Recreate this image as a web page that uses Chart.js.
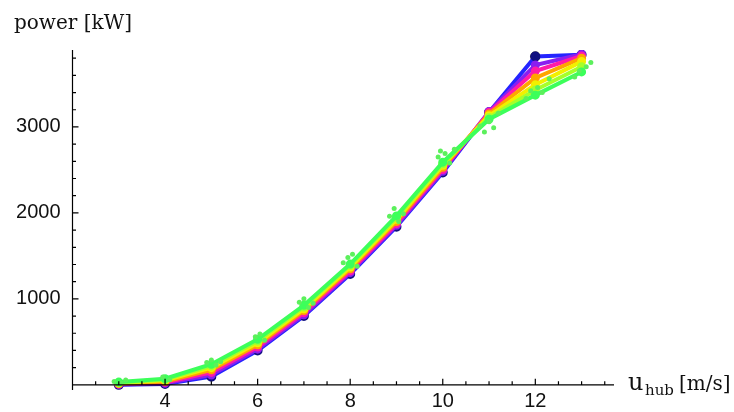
<!DOCTYPE html>
<html>
<head>
<meta charset="utf-8">
<script src="https://cdn.jsdelivr.net/npm/chart.js@4.4.1/dist/chart.umd.min.js"></script>
<style>
  html, body { margin: 0; padding: 0; background: #fff; }
  #wrap { width: 734px; height: 412px; }
</style>
</head>
<body>
<div id="wrap"><canvas id="myChart"></canvas></div>
<script>
// wind speeds (m/s) and power (kW) for each curve
const speeds = [3, 4, 5, 6, 7, 8, 9, 10, 11, 12, 13];
const powerNavy    = [0, 10, 95, 400, 800, 1290, 1840, 2470, 3170, 3820, 3840];
const powerBlue    = [5, 18, 115, 415, 815, 1305, 1855, 2485, 3180, 3720, 3845];
const powerMagenta = [10, 28, 145, 440, 840, 1325, 1875, 2505, 3170, 3650, 3825];
const powerOrange  = [15, 40, 175, 465, 865, 1350, 1900, 2530, 3150, 3570, 3800];
const powerYellow  = [20, 52, 200, 490, 885, 1370, 1925, 2555, 3130, 3490, 3760];
const powerLime    = [25, 62, 220, 510, 905, 1390, 1945, 2570, 3110, 3430, 3700];
const powerGreen   = [32, 72, 240, 530, 925, 1405, 1965, 2590, 3090, 3370, 3640];

// scattered single measurements
const dotsX = [2.9, 3.05, 3.15, 3.95, 4.1, 4.9, 5.0, 5.1, 5.2, 5.95, 6.05, 6.15, 6.9, 7.0, 7.1, 7.2,
               7.85, 7.95, 8.05, 8.15, 8.85, 8.95, 9.05, 9.15, 9.9, 9.95, 10.05, 10.15, 10.25,
               10.8, 10.9, 11.0, 11.1, 11.2, 11.8, 11.9, 12.05, 12.15, 12.3, 12.85, 12.95, 13.1, 13.2];
const dotsY = [40, 20, 55, 90, 60, 260, 290, 230, 270, 560, 590, 520, 960, 1000, 900, 950,
               1420, 1480, 1520, 1380, 1960, 2050, 1900, 1990, 2650, 2720, 2690, 2580, 2740,
               3010, 2940, 3060, 2990, 3160, 3330, 3420, 3460, 3400, 3560, 3580, 3650, 3700, 3750];

const ticksX = [4, 6, 8, 10, 12];
const ticksY = [1000, 2000, 3000];

function pts(ys) {
  return speeds.map((s, i) => ({ x: s, y: ys[i] }));
}

// axes drawn Mathematica style: crossing lines with inward ticks
const axesPlugin = {
  id: 'axes',
  afterDatasetsDraw(chart) {
    const c = chart.ctx;
    const xs = chart.scales.x, ys = chart.scales.y;
    const x0 = xs.getPixelForValue(2), y0 = ys.getPixelForValue(0);
    c.save();
    c.strokeStyle = '#000';
    c.lineWidth = 1.2;
    c.beginPath();
    c.moveTo(xs.left, y0); c.lineTo(xs.right, y0);
    c.moveTo(x0, ys.top); c.lineTo(x0, ys.bottom);
    for (let v = 2.5; v <= 13.5; v += 0.5) {
      const p = xs.getPixelForValue(v);
      const len = (v % 2 === 0) ? 6 : 3.5;
      c.moveTo(p, y0); c.lineTo(p, y0 - len);
    }
    for (let v = 200; v <= 3800; v += 200) {
      const p = ys.getPixelForValue(v);
      const len = (v % 1000 === 0) ? 6 : 3.5;
      c.moveTo(x0, p); c.lineTo(x0 + len, p);
    }
    c.stroke();

    c.fillStyle = '#111';
    c.textBaseline = 'alphabetic';
    c.font = '20px "DejaVu Serif"';
    c.fillText('power [kW]', 14, 29);
    c.font = '24px "DejaVu Serif"';
    c.fillText('u', 628, 390);
    c.font = '15px "DejaVu Serif"';
    c.fillText('hub', 645, 395);
    c.font = '20px "DejaVu Serif"';
    c.fillText('[m/s]', 679, 390);
    c.restore();
  }
};

function line(data, color) {
  return {
    type: 'line',
    data: pts(data),
    borderColor: color,
    backgroundColor: color,
    borderWidth: 4,
    pointRadius: 2.5,
    tension: 0
  };
}

const ctx = document.getElementById('myChart');
new Chart(ctx, {
  type: 'scatter',
  data: {
    datasets: [
      {
        data: dotsX.map((x, i) => ({ x: x, y: dotsY[i] })),
        backgroundColor: '#5cf05c',
        borderWidth: 0,
        pointRadius: 2.5
      },
      line(powerGreen, '#3cff5a'),
      line(powerLime, '#a6ff2a'),
      line(powerYellow, '#f2f000'),
      line(powerOrange, '#ffa500'),
      line(powerMagenta, '#ff1aa8'),
      line(powerBlue, '#8a1ef0'),
      Object.assign(line(powerNavy, '#2424ff'), { pointBackgroundColor: '#101080', pointBorderColor: '#101080', pointRadius: 3 }),
      {
        data: [{ x: 12, y: 3820 }],
        backgroundColor: '#000',
        pointRadius: 5
      }
    ]
  },
  options: {
    responsive: true,
    maintainAspectRatio: false,
    animation: false,
    layout: { padding: { top: 50, right: 120, left: 0, bottom: 0 } },
    plugins: { legend: { display: false }, tooltip: { enabled: false } },
    scales: {
      x: {
        type: 'linear',
        min: 2, max: 13.7,
        grid: { display: false },
        border: { display: false },
        afterBuildTicks: s => { s.ticks = ticksX.map(v => ({ value: v })); },
        afterFit: s => { s.height = 22; },
        ticks: { padding: -9, color: '#111', callback: v => String(v), font: { family: '"Liberation Sans"', size: 20 } }
      },
      y: {
        min: -60, max: 3895,
        grid: { display: false },
        border: { display: false },
        afterBuildTicks: s => { s.ticks = ticksY.map(v => ({ value: v })); },
        afterFit: s => { s.width = 72.5; },
        ticks: { padding: 4, color: '#111', callback: v => String(v), font: { family: '"Liberation Sans"', size: 20 } }
      }
    }
  },
  plugins: [axesPlugin]
});
</script>
</body>
</html>
